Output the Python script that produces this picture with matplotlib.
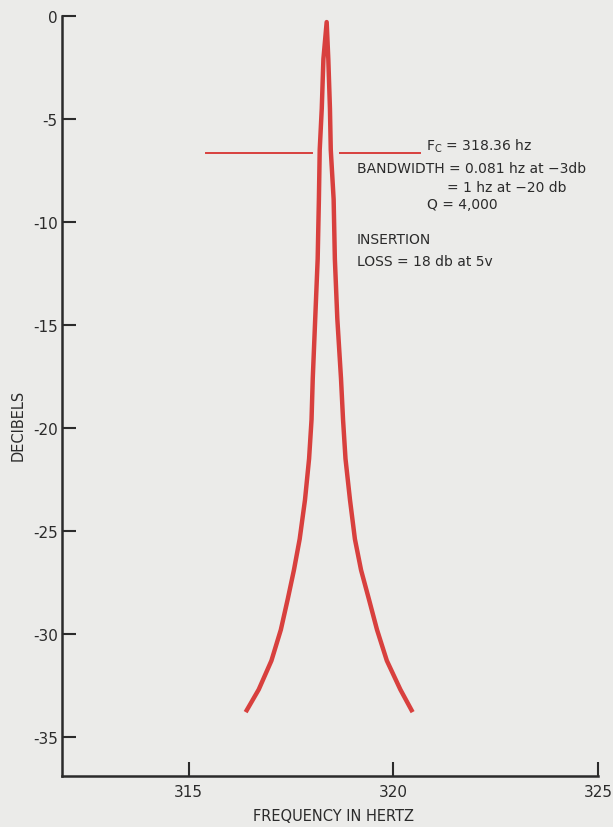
import matplotlib
matplotlib.use("Agg")
import matplotlib.pyplot as plt

plt.rcParams['font.family'] = ['DejaVu Sans']
plt.rcParams['axes.unicode_minus'] = False

# filter response: left skirt up to the peak, then down the right skirt
freq_hz = [316.39, 316.71, 317.02, 317.25, 317.42, 317.57, 317.71, 317.84, 317.94,
           318.00, 318.03, 318.09, 318.15, 318.18, 318.20, 318.25, 318.29, 318.37,
           318.41, 318.45, 318.47, 318.54, 318.57, 318.63, 318.72, 318.77, 318.83,
           318.94, 319.06, 319.21, 319.40, 319.60, 319.84, 320.17, 320.47]
level_db = [-33.8, -32.7, -31.3, -29.8, -28.3, -26.9, -25.4, -23.5, -21.5,
            -19.6, -17.6, -14.7, -11.8, -8.9, -6.5, -4.5, -2.1, -0.3,
            -2.1, -4.5, -6.5, -8.9, -11.8, -14.7, -17.6, -19.6, -21.5,
            -23.5, -25.4, -26.9, -28.3, -29.8, -31.3, -32.7, -33.8]

# reference marker, drawn in two pieces either side of the peak
marker_db = -6.66
marker_left = (315.41, 318.00)
marker_right = (318.70, 320.64)

x_ticks = [315, 320, 325]
y_ticks = [0, -5, -10, -15, -20, -25, -30, -35]

paper = '#ebebe9'
ink = '#2b2b2b'
red = '#d8403e'

fig = plt.figure(figsize=(6.13, 8.28), dpi=100, facecolor=paper)
ax = fig.add_axes([0.101, 0.0616, 0.8745, 0.918])
ax.set_facecolor(paper)

ax.plot(freq_hz, level_db, color=red, linewidth=3.2, solid_capstyle='butt',
        solid_joinstyle='round')
ax.plot(marker_left, [marker_db, marker_db], color=red, linewidth=1.4)
ax.plot(marker_right, [marker_db, marker_db], color=red, linewidth=1.4)

ax.set_xlim(311.9, 325)
ax.set_ylim(-36.9, 0)
ax.set_xticks(x_ticks)
ax.set_yticks(y_ticks)
ax.set_xticklabels([str(t) for t in x_ticks])
ax.set_yticklabels([str(t) for t in y_ticks])

for side in ['top', 'right']:
    ax.spines[side].set_visible(False)
for side in ['left', 'bottom']:
    ax.spines[side].set_color(ink)
    ax.spines[side].set_linewidth(1.8)

ax.tick_params(axis='both', direction='in', length=10, width=1.5, color=ink,
               labelcolor=ink, labelsize=11, pad=4)
ax.tick_params(axis='y', pad=3)
ax.tick_params(axis='x', pad=6)

ax.set_ylabel('DECIBELS', fontsize=10.5, color=ink)
ax.yaxis.set_label_coords(-0.067, 0.463)
ax.set_xlabel('FREQUENCY IN HERTZ', fontsize=10.5, color=ink, va='center')
ax.xaxis.set_label_coords(0.506, -0.052)

txt = dict(fontsize=10, color=ink, va='center', ha='left')
ax.text(320.8, -6.3, r'F$_\mathregular{C}$ = 318.36 hz', **txt)
ax.text(319.10, -7.4, 'BANDWIDTH = 0.081 hz at \u22123db', **txt)
ax.text(321.30, -8.3, '= 1 hz at \u221220 db', **txt)
ax.text(320.83, -9.15, 'Q = 4,000', **txt)
ax.text(319.10, -10.85, 'INSERTION', **txt)
ax.text(319.10, -11.9, 'LOSS = 18 db at 5v', **txt)

fig.savefig('out.png', dpi=100, facecolor=fig.get_facecolor())
